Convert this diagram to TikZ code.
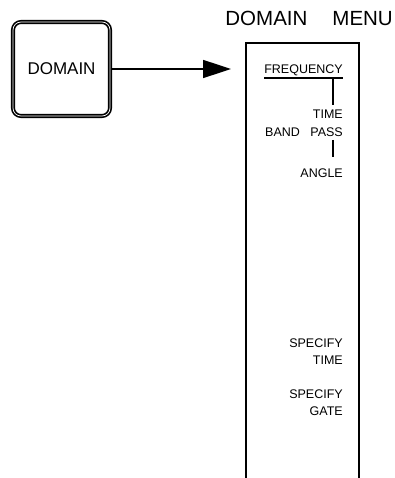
\documentclass[tikz,border=0pt]{standalone}
\usepackage{fontspec}
\setmainfont{Liberation Sans}
\usetikzlibrary{arrows.meta,positioning,calc}
\newcommand{\titlefont}{\fontsize{20.5}{24}\selectfont}
\newcommand{\keyfont}{\fontsize{17}{20}\selectfont}
\newcommand{\itemfont}{\fontsize{12.5}{15}\selectfont}
\tikzset{
  hardkey/.style={draw,rectangle,rounded corners=8pt,line width=1.7pt,double,double distance=0.7pt,
    minimum width=97pt,minimum height=94pt,inner sep=0pt,font=\keyfont},
  softitem/.style={anchor=base east,inner sep=0pt,font=\itemfont},
  menuline/.style={line width=1.4pt}
}
\begin{document}
\begin{tikzpicture}[x=1pt,y=-1pt,>=Latex]
\useasboundingbox (0,0) rectangle (395,478);
% front panel key and its menu
\node[hardkey] (key) at (61.5,69) {DOMAIN};
\node[anchor=base east,inner sep=0pt,font=\titlefont] (title) at (393,26) {DOMAIN\hspace{25pt}MENU};
\coordinate (menutip) at (231,69);
\draw[line width=1.6pt,-{Triangle[length=28pt,width=18pt]}] (key.east) -- (menutip);
% open-ended menu column
\coordinate (mtl) at (246,43);
\coordinate (mtr) at (359,43);
\draw[menuline] (mtl |- 0,478) -- (mtl) -- (mtr) -- (mtr |- 0,478);
% softkey labels
\node[softitem] (freq) at (343,74) {FREQUENCY};
\node[softitem] (time) at (343,119) {TIME};
\node[softitem] (pass) at (343,137) {PASS};
\node[anchor=base west,inner sep=0pt,font=\itemfont] (band) at (265,137) {BAND};
\node[softitem] (angle) at (343,178) {ANGLE};
\node[softitem] (spec1) at (343,347) {SPECIFY};
\node[softitem] (stime) at (343,364) {TIME};
\node[softitem] (spec2) at (343,398) {SPECIFY};
\node[softitem] (sgate) at (343,415) {GATE};
% selection marks
\coordinate (ul) at (264,78);
\coordinate (ur) at (343,78);
\draw[menuline] (ul) -- (ur);
\draw[menuline] (333,78) -- (333,105);
\draw[menuline] (333,140) -- (333,157);
\end{tikzpicture}
\end{document}
